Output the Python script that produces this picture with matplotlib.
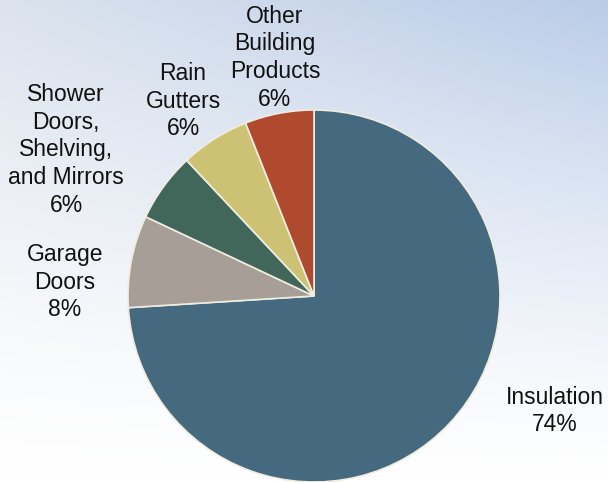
import numpy as np
import matplotlib
matplotlib.use("Agg")
import matplotlib.pyplot as plt

plt.rcParams['font.family'] = ['Liberation Sans', 'DejaVu Sans']

labels = ['Insulation', 'Garage\nDoors', 'Shower\nDoors,\nShelving,\nand Mirrors',
          'Rain\nGutters', 'Other\nBuilding\nProducts']
shares = [74, 8, 6, 6, 6]
colors = ['#45697e', '#a69e97', '#41665a', '#cdc274', '#b04a2e']

# label centres, in units of the pie radius
label_pos = [(1.296, -0.618), (-1.339, 0.075), (-1.333, 0.785), (-0.704, 1.048), (-0.21, 1.28)]

fig = plt.figure(figsize=(6.08, 4.82), dpi=100)

# background gradient: white at bottom, pale blue towards the top right
bg = fig.add_axes([0, 0, 1, 1], zorder=0)
h, w = 241, 304
yy, xx = np.mgrid[0:h, 0:w]
yf = 1 - yy / (h - 1)
xf = xx / (w - 1)
top_left = np.array([0.86, 0.89, 0.93])
top_right = np.array([0.73, 0.80, 0.91])
white = np.array([1.0, 1.0, 1.0])
top = top_left[None, None, :] * (1 - xf[..., None]) + top_right[None, None, :] * xf[..., None]
k = np.clip(yf, 0, 1)[..., None] ** 1.3
img = white * (1 - k) + top * k
bg.imshow(img, aspect='auto', extent=[0, 1, 0, 1], origin='upper')
bg.axis('off')

ax = fig.add_axes([0, 0, 1, 1], zorder=1)
ax.patch.set_alpha(0)
ax.pie(shares, colors=colors, startangle=90, counterclock=False, radius=1,
       wedgeprops=dict(edgecolor='#f0ede0', linewidth=1.2))
for lab, s, (x, y) in zip(labels, shares, label_pos):
    ax.text(x, y, f'{lab}\n{s}%', ha='center', va='center', fontsize=16.5,
            linespacing=1.27, color='#111111')
ax.set_xlim(-314 / 186, (608 - 314) / 186)
ax.set_ylim(-186 / 186, 296 / 186)
ax.set_aspect('equal')
ax.axis('off')

fig.savefig('out.png', dpi=100)
